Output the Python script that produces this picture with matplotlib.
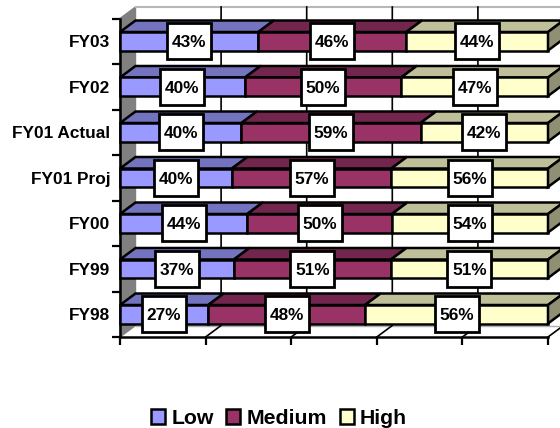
import matplotlib
matplotlib.use('Agg')
from matplotlib import pyplot as plt
from matplotlib.patches import Polygon, Rectangle
import numpy as np

plt.rcParams['font.family'] = ['Liberation Sans', 'DejaVu Sans']
plt.rcParams['font.weight'] = 'bold'

categories = ['FY98', 'FY99', 'FY00', 'FY01 Proj', 'FY01 Actual', 'FY02', 'FY03']
low = [27, 37, 44, 40, 40, 40, 43]
medium = [48, 51, 50, 57, 59, 50, 46]
high = [56, 51, 54, 56, 42, 47, 44]

series_names = ['Low', 'Medium', 'High']
front_colors = ['#9999FF', '#993366', '#FFFFCC']
top_colors = ['#7373BF', '#73264D', '#BFBF99']
side_color = '#8F8F73'

W, H = 560, 428
fig = plt.figure(figsize=(W/100, H/100), dpi=100)
# axes = the front plane of the 3d box
ax = fig.add_axes([120/W, 1-337/H, 428/W, 318.5/H])
ax.set_xlim(0, 100)
ax.set_ylim(-0.5, 6.5)
ax.patch.set_visible(False)

# depth of the 3d effect, in data units
px_x = 100/428
px_y = 7/318.5
dx = 15.5*px_x
dy = 11.5*px_y
bar_h = 18.5*px_y
edge = 1.8

# wall, back and floor
ax.add_patch(Polygon([(0, -0.5), (dx, -0.5+dy), (dx, 6.5+dy), (0, 6.5)], closed=True,
                     fc='#808080', ec='#808080', lw=1, clip_on=False, zorder=1))
ax.plot([dx, 100+dx], [6.5+dy, 6.5+dy], color='#B8B8B8', lw=1.5, clip_on=False, zorder=1)
ax.plot([dx, 100+dx], [-0.5+dy, -0.5+dy], color='#B0B0B0', lw=1, clip_on=False, zorder=1)
for t in [20, 40, 60, 80, 100]:
    ax.plot([t, t+dx, t+dx], [-0.5, -0.5+dy, 6.5+dy], color='k', lw=1.2, clip_on=False, zorder=1.5)

values = np.array([low, medium, high], dtype=float)
totals = values.sum(axis=0)
shares = values/totals*100

# back bars first so the front ones cover them
zo = 2
for i in range(len(categories)-1, -1, -1):
    left = 0
    for j in range(3):
        w = shares[j, i]
        top = i + bar_h/2
        ax.add_patch(Polygon([(left, top), (left+dx, top+dy), (left+w+dx, top+dy), (left+w, top)],
                             closed=True, fc=top_colors[j], ec='k', lw=edge, clip_on=False, zorder=zo))
        ax.barh(i, w, height=bar_h, left=left, color=front_colors[j], edgecolor='k', lw=edge,
                clip_on=False, zorder=zo)
        left += w
    bottom = i - bar_h/2
    ax.add_patch(Polygon([(100, bottom), (100+dx, bottom+dy), (100+dx, top+dy), (100, top)],
                         closed=True, fc=side_color, ec='k', lw=edge, clip_on=False, zorder=zo))

# value boxes
box_w = 44*px_x
box_h = 36*px_y
for i in range(len(categories)):
    left = 0
    for j in range(3):
        w = shares[j, i]
        xc = left + w/2
        ax.add_patch(Rectangle((xc-box_w/2, i-box_h/2), box_w, box_h, fc='white', ec='k', lw=2,
                               clip_on=False, zorder=5))
        ax.text(xc, i, '%d%%' % values[j, i], ha='center', va='center_baseline', fontsize=12.4,
                fontweight='bold', color='k', zorder=6)
        left += w

for s in ['top', 'right']:
    ax.spines[s].set_visible(False)
for s in ['left', 'bottom']:
    ax.spines[s].set_linewidth(1.8)
    ax.spines[s].set_zorder(1.6)

ax.set_xticks([0, 20, 40, 60, 80, 100])
ax.set_xticklabels([])
ax.set_yticks(np.arange(-0.5, 7, 1))
ax.set_yticklabels([])
ax.set_yticks(np.arange(7), minor=True)
ax.set_yticklabels(categories, minor=True, fontsize=12.4, fontweight='bold')
ax.tick_params(axis='y', which='minor', length=0, pad=7)
ax.tick_params(axis='both', which='major', length=5.5, width=1.6, color='k')

handles = [Rectangle((0, 0), 1, 1, fc=front_colors[j], ec='k', lw=1.8) for j in range(3)]
fig.legend(handles, series_names, loc='center', bbox_to_anchor=(279/W, 1-418.5/H), ncol=3,
           frameon=False, prop={'size': 15.3, 'weight': 'bold'}, handlelength=0.65, handleheight=0.65,
           handletextpad=0.3, columnspacing=0.6, borderpad=0, borderaxespad=0)

fig.savefig('out.png', dpi=100)
